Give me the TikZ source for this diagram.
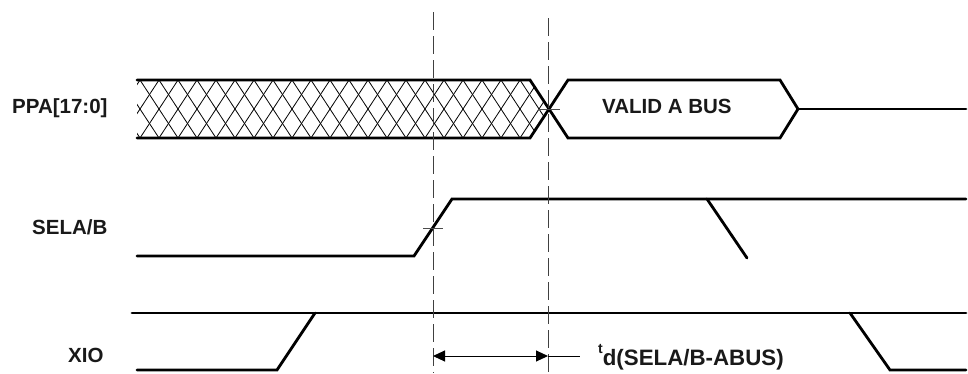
\documentclass[tikz,border=0pt]{standalone}
\usepackage{fontspec}
\setmainfont{Liberation Sans}
\usetikzlibrary{arrows.meta}
\begin{document}
\begin{tikzpicture}[x=1pt,y=-1pt,
  sig/.style={line width=2.8pt, line cap=round, line join=miter},
  guide/.style={line width=1pt, black!75, dash pattern=on 18pt off 6pt},
  hatchline/.style={line width=0.8pt},
  tickmark/.style={line width=0.6pt, black!70},
  lbl/.style={font=\fontsize{20.5}{24}\selectfont\bfseries, inner sep=0pt, anchor=base west, text=black!90},
  dimline/.style={line width=1pt, {Triangle[length=12pt,width=11pt]}-{Triangle[length=12pt,width=11pt]}}]
\useasboundingbox (0,0) rectangle (968,373);

% hatched (don't care) region of the bus
\begin{scope}
  \clip (137,80) -- (530,80) -- (548,109) -- (530,138) -- (137,138) -- cycle;
  \foreach \x in {83,102,...,610} {
    \draw[hatchline] (\x,80) -- ++(38,58);
    \draw[hatchline] (\x,80) -- ++(-38,58);
  }
\end{scope}

% PPA bus
\draw[sig] (137,80) -- (530,80) -- (568,138) -- (780,138) -- (798,109) -- (780,80) -- (568,80) -- (530,138) -- (137,138);
\draw[sig] (798,109) -- (966,109);

% SELA/B
\draw[sig] (137,256) -- (414,256) -- (452,199) -- (966,199);
\draw[sig] (707,199) -- (747,258);

% XIO
\draw[sig] (132,313) -- (966,313);
\draw[sig] (137,370) -- (277,370) -- (315,313);
\draw[sig] (850,313) -- (890,370) -- (966,370);

% guide lines
\coordinate (g1t) at (433,12);
\coordinate (g1b) at (433,373);
\coordinate (g2t) at (548,18);
\coordinate (g2b) at (548,373);
\draw[guide] (g1t) -- (g1b);
\draw[guide] (g2t) -- (g2b);

% crossing ticks
\draw[tickmark] (538,109) -- (560,109);
\draw[tickmark] (423,228) -- (443,228);

% labels
\node[lbl] (ppa) at (12,113) {PPA[17:0]};
\node[lbl] (sel) at (32,234) {SELA/B};
\node[lbl] (xio) at (68,362) {XIO};
\node[lbl] (valid) at (602,113) {VALID A BUS};
\node[lbl, font=\fontsize{22.3}{24}\selectfont\bfseries] (td) at (598,365) {\raisebox{12pt}{\fontsize{14}{14}\selectfont t}d(SELA/B-ABUS)};

% dimension arrow
\coordinate (a1) at (433,356);
\coordinate (a2) at (548,356);
\coordinate (a3) at (580,356);
\draw[dimline] (a1) -- (a2);
\draw[line width=1pt] (a2) -- (a3);
\end{tikzpicture}
\end{document}
